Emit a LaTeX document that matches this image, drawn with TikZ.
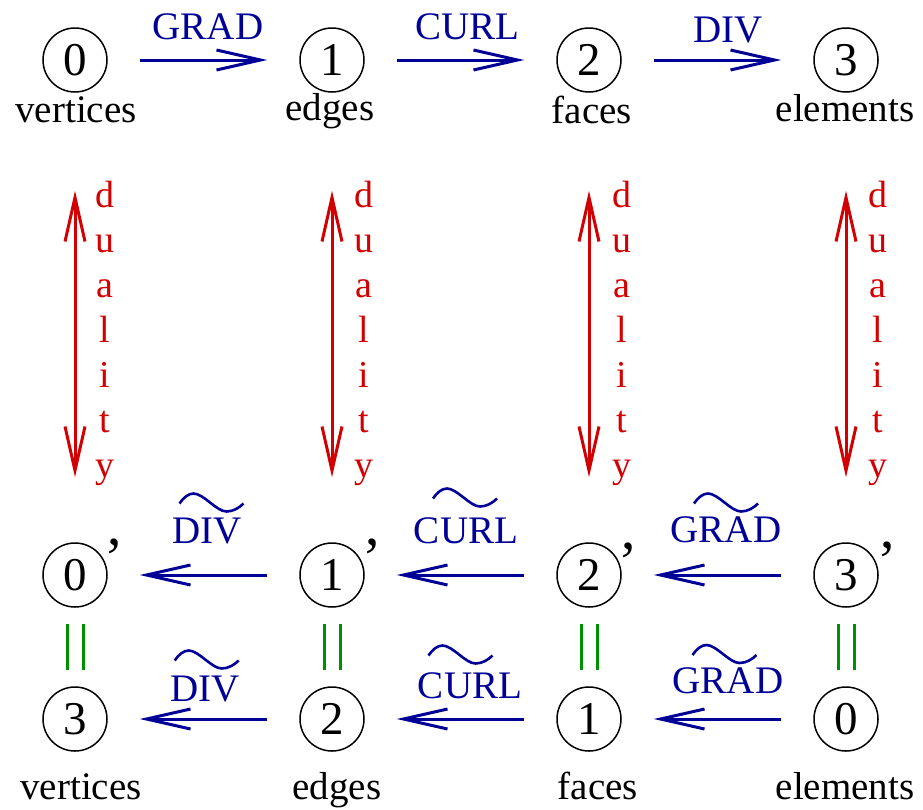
\documentclass[tikz,border=0pt]{standalone}
\usepackage{fontspec}
\setmainfont{Liberation Serif}
\usetikzlibrary{arrows.meta}
\definecolor{opblue}{RGB}{0,0,150}
\definecolor{dualred}{RGB}{210,0,0}
\definecolor{eqgreen}{RGB}{0,144,0}
\begin{document}
\begin{tikzpicture}[x=1pt, y=-1pt,
  >={Straight Barb[length=44pt,width=20pt,sharp]},
  cell/.style={circle, draw, line width=1.5pt, minimum size=64pt, inner sep=0pt,
    font=\fontsize{47}{50}\selectfont},
  cellname/.style={anchor=base, inner sep=0pt, font=\fontsize{39}{44}\selectfont},
  oplabel/.style={cellname, text=opblue},
  primemark/.style={anchor=base, inner sep=0pt, font=\fontsize{58}{60}\selectfont},
  oparrow/.style={draw=opblue, line width=3pt, shorten <=32pt, shorten >=32pt, ->},
  dualarrow/.style={draw=dualred, line width=3pt, shorten <=98pt, shorten >=65pt, <->},
  dualletter/.style={anchor=base, inner sep=0pt, text=dualred, font=\fontsize{38}{44}\selectfont},
  eqline/.style={draw=eqgreen, line width=3pt},
  tildemark/.style={draw=opblue, line width=2.6pt},
  wtilde/.pic={\draw[tildemark] (-32,1) .. controls (-28,-5) and (-23,-9) .. (-18,-9)
      .. controls (-8,-9) and (5,9) .. (15,9) .. controls (22,9) and (28,5) .. (32,1);}
]
\useasboundingbox (0,0) rectangle (923,809);

% primal complex
\node[cell] (v0) at (75,60) {0};
\node[cell] (e1) at (332,60) {1};
\node[cell] (f2) at (589,60) {2};
\node[cell] (k3) at (846,60) {3};
\node[cellname] (tv) at (76,122) {vertices};
\node[cellname] (te) at (330,120) {edges};
\node[cellname] (tf) at (592,123) {faces};
\node[cellname] (tk) at (845,121) {elements};

\draw[oparrow] (v0) -- (e1);
\draw[oparrow] (e1) -- (f2);
\draw[oparrow] (f2) -- (k3);
\node[oplabel] (tgrad) at (208,39.5) {GRAD};
\node[oplabel] (tcurl) at (467,39.5) {CURL};
\node[oplabel] (tdiv) at (728,42) {DIV};

% dual complex
\node[cell] (p0) at (75,575) {0};
\node[cell] (p1) at (332,575) {1};
\node[cell] (p2) at (589,575) {2};
\node[cell] (p3) at (846,575) {3};
\node[primemark] (pp0) at (114,577) {’};
\node[primemark] (pp1) at (372,577) {’};
\node[primemark] (pp2) at (628,581) {’};
\node[primemark] (pp3) at (887,580) {’};

\draw[oparrow] (p1) -- (p0);
\draw[oparrow] (p2) -- (p1);
\draw[oparrow] (p3) -- (p2);
\node[oplabel] (adiv) at (207,543) {DIV};
\node[oplabel] (acurl) at (466,543) {CURL};
\node[oplabel] (agrad) at (726,542) {GRAD};
\pic at (211.5,502.5) {wtilde};
\pic at (465,497.5) {wtilde};
\pic at (726,502.5) {wtilde};

% dual complex renumbered
\node[cell] (q3) at (75,719) {3};
\node[cell] (q2) at (332,719) {2};
\node[cell] (q1) at (589,719) {1};
\node[cell] (q0) at (846,719) {0};
\node[cellname] (bv) at (81,799) {vertices};
\node[cellname] (be) at (337,799) {edges};
\node[cellname] (bf) at (598,799) {faces};
\node[cellname] (bk) at (845,799) {elements};

\draw[oparrow] (q2) -- (q3);
\draw[oparrow] (q1) -- (q2);
\draw[oparrow] (q0) -- (q1);
\node[oplabel] (bdiv) at (205,701) {DIV};
\node[oplabel] (bcurl) at (470,698) {CURL};
\node[oplabel] (bgrad) at (728,693) {GRAD};
\pic at (206.7,659.5) {wtilde};
\pic at (460.5,654.5) {wtilde};
\pic at (724.5,654) {wtilde};

% duality arrows with vertical captions
\foreach \top/\bot/\tx [count=\c] in {v0/p0/105, e1/p1/364, f2/p2/622, k3/p3/878} {
  \draw[dualarrow] (\top) -- (\bot);
  \foreach \ch [count=\k] in {d,u,a,l,i,t,y}
    \node[dualletter] (dual\c-\k) at (\tx,{207+45.1*(\k-1)}) {\ch};
}

% identifications between the two numberings
\foreach \a/\b in {p0/q3, p1/q2, p2/q1, p3/q0} {
  \draw[eqline] ([xshift=-8pt,yshift=-16pt]\a.south) -- ([xshift=-8pt,yshift=16pt]\b.north);
  \draw[eqline] ([xshift=8pt,yshift=-16pt]\a.south) -- ([xshift=8pt,yshift=16pt]\b.north);
}
\end{tikzpicture}
\end{document}
